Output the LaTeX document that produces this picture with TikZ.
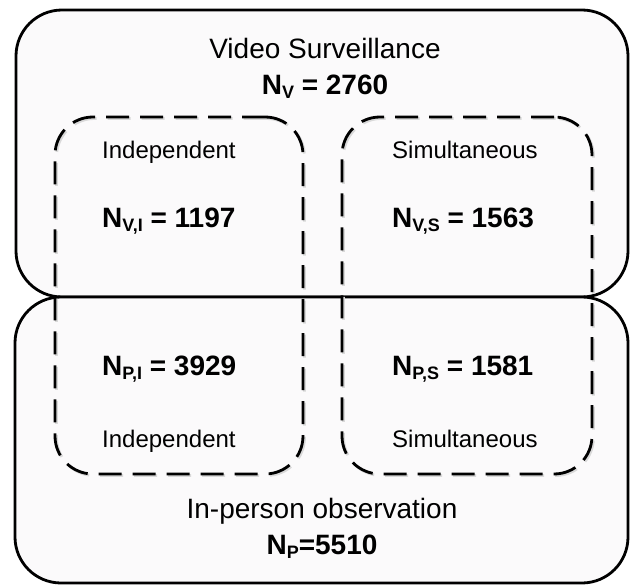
\documentclass[tikz,border=0pt]{standalone}
\usepackage{fontspec}
\setmainfont{Liberation Sans}
\newcommand{\sbs}[1]{\raisebox{-4pt}{\fontsize{18}{18}\selectfont #1}}
\definecolor{boxfill}{RGB}{251,250,251}
\tikzset{
  outerbox/.style={draw=black, line width=2.8pt, rounded corners=46pt, fill=boxfill, inner sep=0pt},
  groupbox/.style={draw=black, line width=2.8pt, rounded corners=38pt, dash pattern=on 23pt off 11pt, inner sep=0pt},
  shadowbox/.style={draw=black!15, line width=2.8pt, inner sep=0pt, rounded corners=38pt, dash pattern=on 23pt off 11pt},
  bigtxt/.style={inner sep=0pt, font=\fontsize{28}{30}\selectfont},
  smalltxt/.style={inner sep=0pt, font=\fontsize{24}{26}\selectfont},
  numtxt/.style={inner sep=0pt, font=\fontsize{28}{30}\selectfont\bfseries},
}
\begin{document}
\begin{tikzpicture}[x=1pt, y=-1pt]
\useasboundingbox (0,0) rectangle (630,586);
% outer boxes
\node[outerbox, minimum width=612pt, minimum height=287pt] (video) at (322,153.5) {};
\node[outerbox, minimum width=613pt, minimum height=286pt] (person) at (321.5,440) {};
% faint shadows of the dashed boxes
\node[shadowbox, minimum width=248pt, minimum height=357pt] (indshadow) at (180.5,297) {};
\node[shadowbox, minimum width=250pt, minimum height=357pt] (simshadow) at (468.5,297) {};
% dashed group boxes
\node[groupbox, minimum width=248pt, minimum height=357pt] (indep) at (179,295.5) {};
\node[groupbox, minimum width=250pt, minimum height=357pt] (simul) at (467,295.5) {};
% texts
\node[bigtxt, anchor=base] (vtitle) at (325,59) {Video Surveillance};
\node[numtxt, anchor=base] (vnum) at (325,95) {N\sbs{V} = 2760};
\node[smalltxt, anchor=base west] (indtop) at (102,158) {Independent};
\node[numtxt, anchor=base west] (vi) at (102,227) {N\sbs{V,I} = 1197};
\node[smalltxt, anchor=base west] (simtop) at (392,158) {Simultaneous};
\node[numtxt, anchor=base west] (vs) at (392,227) {N\sbs{V,S} = 1563};
\node[numtxt, anchor=base west] (pi) at (102,375) {N\sbs{P,I} = 3929};
\node[numtxt, anchor=base west] (ps) at (392,375) {N\sbs{P,S} = 1581};
\node[smalltxt, anchor=base west] (indbot) at (102,447) {Independent};
\node[smalltxt, anchor=base west] (simbot) at (392,447) {Simultaneous};
\node[bigtxt, anchor=base] (ptitle) at (322,518) {In-person observation};
\node[numtxt, anchor=base] (pnum) at (322,554) {N\sbs{P}=5510};
\end{tikzpicture}
\end{document}
